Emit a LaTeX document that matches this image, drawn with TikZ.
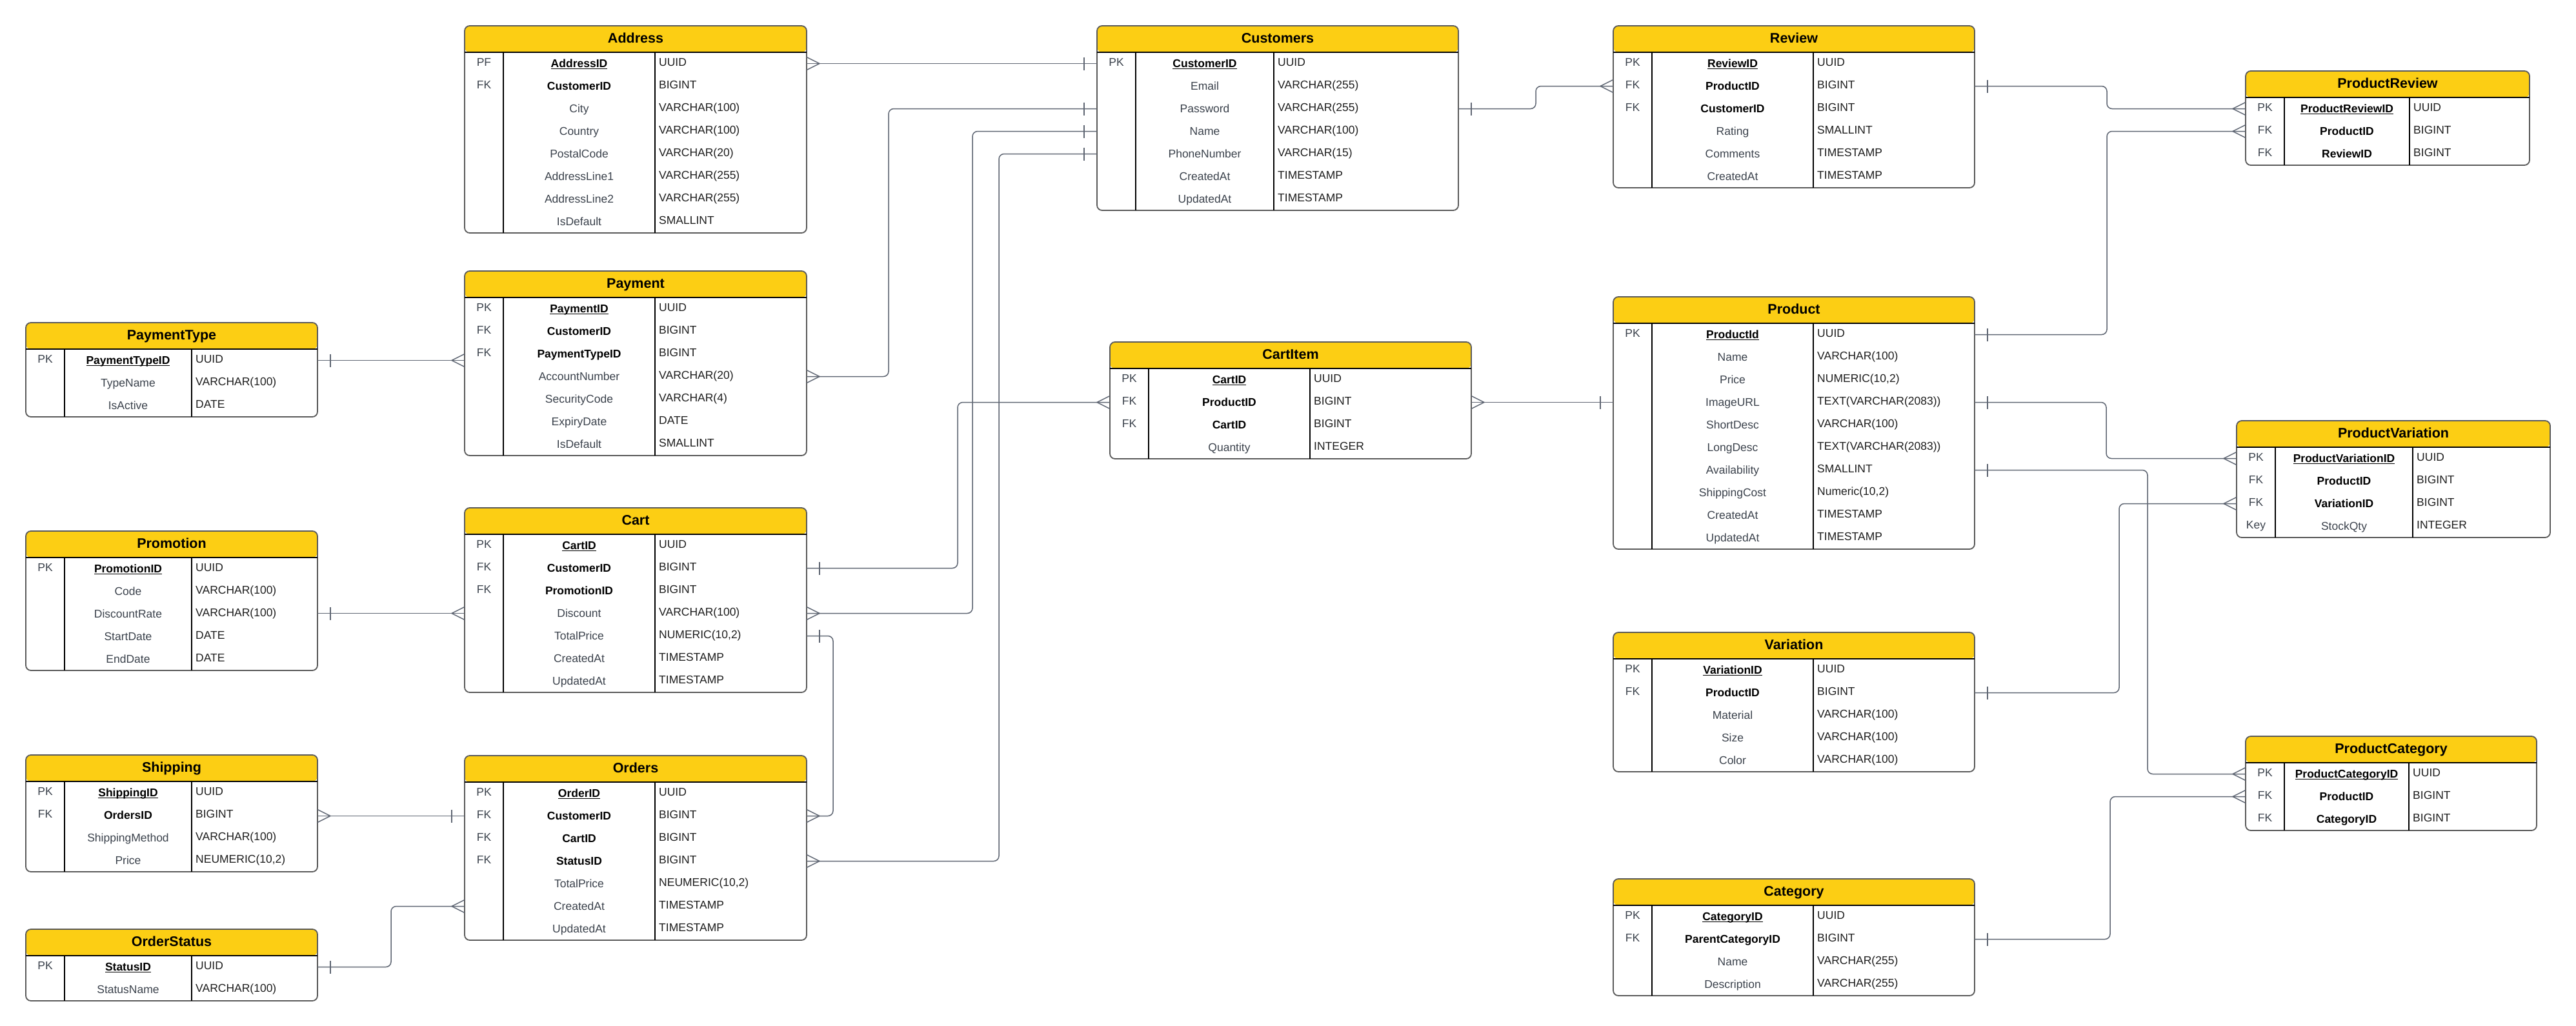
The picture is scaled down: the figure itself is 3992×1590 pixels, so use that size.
\documentclass[tikz,border=0pt]{standalone}
\usepackage{fontspec}
\setmainfont{Liberation Sans}
\usetikzlibrary{calc}

\definecolor{hdr}{HTML}{FCCE14}
\definecolor{edgegray}{HTML}{5F6673}
\definecolor{boxgray}{HTML}{5A5A5A}
\definecolor{attrgray}{HTML}{3B424C}
\definecolor{typeblack}{HTML}{1E1E1E}

\newsavebox\ulbox
\newcommand\ulname[1]{\sbox\ulbox{#1}\rlap{\rule[-2.6pt]{\wd\ulbox}{1.5pt}}\usebox\ulbox}

\tikzset{
  tablebox/.style={draw=boxgray, line width=1.8pt, fill=white, rounded corners=8pt,
    anchor=north west, inner sep=0pt, outer sep=0pt,
    path picture={\fill[hdr] (path picture bounding box.north west)
      rectangle ([yshift=-41pt]path picture bounding box.north east);}},
  gridline/.style={black, line width=1.6pt},
  rowfont/.style={font=\fontsize{17.5pt}{20pt}\selectfont, inner sep=0pt},
  titletext/.style={font=\bfseries\fontsize{21.5pt}{24pt}\selectfont, inner sep=0pt, anchor=base},
  keytext/.style={rowfont, anchor=base, text=attrgray},
  pkname/.style={rowfont, anchor=base, font=\bfseries\fontsize{17.5pt}{20pt}\selectfont, text=black},
  fkname/.style={rowfont, anchor=base, font=\bfseries\fontsize{17.5pt}{20pt}\selectfont, text=black},
  attrname/.style={rowfont, anchor=base, text=attrgray},
  typetext/.style={rowfont, anchor=base west, text=typeblack},
  conn/.style={draw=edgegray, line width=1.5pt},
  link/.style={conn, rounded corners=8pt},
}

% table frame: id, title, left, divider 1, divider 2, right, top, number of rows
\newcommand\ertable[8]{%
  \def\erId{#1}\def\erL{#3}\def\erA{#4}\def\erB{#5}\def\erR{#6}%
  \pgfmathsetmacro\erH{#7+41}%
  \pgfmathsetmacro\erBot{#7+41+35*#8}%
  \pgfmathsetmacro\erW{#6-#3}%
  \pgfmathsetmacro\erHt{41+35*#8}%
  \node[tablebox, minimum width=\erW pt, minimum height=\erHt pt] (#1) at (#3,#7) {};
  \draw[gridline] (#3,\erH) -- (#6,\erH);
  \draw[gridline] (#4,\erH) -- (#4,\erBot);
  \draw[gridline] (#5,\erH) -- (#5,\erBot);
  \node[titletext] (#1-title) at ({(#3+#6)/2},#7+26) {#2};
}
% table row: index, key, name, type, name style
\newcommand\errow[5]{%
  \pgfmathsetmacro\erY{\erH+35*(#1-0.5)}%
  \coordinate (\erId-#1-w) at (\erL,\erY);
  \coordinate (\erId-#1-e) at (\erR,\erY);
  \node[keytext] (\erId-#1-k) at ({(\erL+\erA)/2},\erY+3.6) {#2};
  \node[#5] (\erId-#1-n) at ({(\erA+\erB)/2},\erY+6) {#3};
  \node[typetext] (\erId-#1-t) at (\erB+6,\erY+3.6) {#4};
}

% relationship end marks
\newcommand\crowE[1]{\draw[conn] ([yshift=10pt]#1) -- ([xshift=20pt]#1) -- ([yshift=-10pt]#1);}
\newcommand\crowW[1]{\draw[conn] ([yshift=10pt]#1) -- ([xshift=-20pt]#1) -- ([yshift=-10pt]#1);}
\newcommand\barE[1]{\draw[conn] ([xshift=20pt,yshift=10pt]#1) -- ([xshift=20pt,yshift=-10pt]#1);}
\newcommand\barW[1]{\draw[conn] ([xshift=-20pt,yshift=10pt]#1) -- ([xshift=-20pt,yshift=-10pt]#1);}

\begin{document}
\begin{tikzpicture}[x=1pt, y=-1pt]
\fill[white] (0,0) rectangle (3992,1590);
\useasboundingbox (0,0) rectangle (3992,1590);

% ---------- tables ----------
\ertable{address}{Address}{720}{780}{1015}{1250}{40}{8}
\errow{1}{PF}{\ulname{AddressID}}{UUID}{pkname}
\errow{2}{FK}{CustomerID}{BIGINT}{fkname}
\errow{3}{}{City}{VARCHAR(100)}{attrname}
\errow{4}{}{Country}{VARCHAR(100)}{attrname}
\errow{5}{}{PostalCode}{VARCHAR(20)}{attrname}
\errow{6}{}{AddressLine1}{VARCHAR(255)}{attrname}
\errow{7}{}{AddressLine2}{VARCHAR(255)}{attrname}
\errow{8}{}{IsDefault}{SMALLINT}{attrname}

\ertable{customers}{Customers}{1700}{1760}{1974}{2260}{40}{7}
\errow{1}{PK}{\ulname{CustomerID}}{UUID}{pkname}
\errow{2}{}{Email}{VARCHAR(255)}{attrname}
\errow{3}{}{Password}{VARCHAR(255)}{attrname}
\errow{4}{}{Name}{VARCHAR(100)}{attrname}
\errow{5}{}{PhoneNumber}{VARCHAR(15)}{attrname}
\errow{6}{}{CreatedAt}{TIMESTAMP}{attrname}
\errow{7}{}{UpdatedAt}{TIMESTAMP}{attrname}

\ertable{review}{Review}{2500}{2560}{2810}{3060}{40}{6}
\errow{1}{PK}{\ulname{ReviewID}}{UUID}{pkname}
\errow{2}{FK}{ProductID}{BIGINT}{fkname}
\errow{3}{FK}{CustomerID}{BIGINT}{fkname}
\errow{4}{}{Rating}{SMALLINT}{attrname}
\errow{5}{}{Comments}{TIMESTAMP}{attrname}
\errow{6}{}{CreatedAt}{TIMESTAMP}{attrname}

\ertable{productreview}{ProductReview}{3480}{3540}{3734}{3920}{110}{3}
\errow{1}{PK}{\ulname{ProductReviewID}}{UUID}{pkname}
\errow{2}{FK}{ProductID}{BIGINT}{fkname}
\errow{3}{FK}{ReviewID}{BIGINT}{fkname}

\ertable{paymenttype}{PaymentType}{40}{100}{297}{492}{500}{3}
\errow{1}{PK}{\ulname{PaymentTypeID}}{UUID}{pkname}
\errow{2}{}{TypeName}{VARCHAR(100)}{attrname}
\errow{3}{}{IsActive}{DATE}{attrname}

\ertable{payment}{Payment}{720}{780}{1015}{1250}{420}{7}
\errow{1}{PK}{\ulname{PaymentID}}{UUID}{pkname}
\errow{2}{FK}{CustomerID}{BIGINT}{fkname}
\errow{3}{FK}{PaymentTypeID}{BIGINT}{fkname}
\errow{4}{}{AccountNumber}{VARCHAR(20)}{attrname}
\errow{5}{}{SecurityCode}{VARCHAR(4)}{attrname}
\errow{6}{}{ExpiryDate}{DATE}{attrname}
\errow{7}{}{IsDefault}{SMALLINT}{attrname}

\ertable{cartitem}{CartItem}{1720}{1780}{2030}{2280}{530}{4}
\errow{1}{PK}{\ulname{CartID}}{UUID}{pkname}
\errow{2}{FK}{ProductID}{BIGINT}{fkname}
\errow{3}{FK}{CartID}{BIGINT}{fkname}
\errow{4}{}{Quantity}{INTEGER}{attrname}

\ertable{product}{Product}{2500}{2560}{2810}{3060}{460}{10}
\errow{1}{PK}{\ulname{ProductId}}{UUID}{pkname}
\errow{2}{}{Name}{VARCHAR(100)}{attrname}
\errow{3}{}{Price}{NUMERIC(10,2)}{attrname}
\errow{4}{}{ImageURL}{TEXT(VARCHAR(2083))}{attrname}
\errow{5}{}{ShortDesc}{VARCHAR(100)}{attrname}
\errow{6}{}{LongDesc}{TEXT(VARCHAR(2083))}{attrname}
\errow{7}{}{Availability}{SMALLINT}{attrname}
\errow{8}{}{ShippingCost}{Numeric(10,2)}{attrname}
\errow{9}{}{CreatedAt}{TIMESTAMP}{attrname}
\errow{10}{}{UpdatedAt}{TIMESTAMP}{attrname}

\ertable{productvariation}{ProductVariation}{3466}{3526}{3739}{3952}{652}{4}
\errow{1}{PK}{\ulname{ProductVariationID}}{UUID}{pkname}
\errow{2}{FK}{ProductID}{BIGINT}{fkname}
\errow{3}{FK}{VariationID}{BIGINT}{fkname}
\errow{4}{Key}{StockQty}{INTEGER}{attrname}

\ertable{promotion}{Promotion}{40}{100}{297}{492}{823}{5}
\errow{1}{PK}{\ulname{PromotionID}}{UUID}{pkname}
\errow{2}{}{Code}{VARCHAR(100)}{attrname}
\errow{3}{}{DiscountRate}{VARCHAR(100)}{attrname}
\errow{4}{}{StartDate}{DATE}{attrname}
\errow{5}{}{EndDate}{DATE}{attrname}

\ertable{cart}{Cart}{720}{780}{1015}{1250}{787}{7}
\errow{1}{PK}{\ulname{CartID}}{UUID}{pkname}
\errow{2}{FK}{CustomerID}{BIGINT}{fkname}
\errow{3}{FK}{PromotionID}{BIGINT}{fkname}
\errow{4}{}{Discount}{VARCHAR(100)}{attrname}
\errow{5}{}{TotalPrice}{NUMERIC(10,2)}{attrname}
\errow{6}{}{CreatedAt}{TIMESTAMP}{attrname}
\errow{7}{}{UpdatedAt}{TIMESTAMP}{attrname}

\ertable{variation}{Variation}{2500}{2560}{2810}{3060}{980}{5}
\errow{1}{PK}{\ulname{VariationID}}{UUID}{pkname}
\errow{2}{FK}{ProductID}{BIGINT}{fkname}
\errow{3}{}{Material}{VARCHAR(100)}{attrname}
\errow{4}{}{Size}{VARCHAR(100)}{attrname}
\errow{5}{}{Color}{VARCHAR(100)}{attrname}

\ertable{shipping}{Shipping}{40}{100}{297}{492}{1170}{4}
\errow{1}{PK}{\ulname{ShippingID}}{UUID}{pkname}
\errow{2}{FK}{OrdersID}{BIGINT}{fkname}
\errow{3}{}{ShippingMethod}{VARCHAR(100)}{attrname}
\errow{4}{}{Price}{NEUMERIC(10,2)}{attrname}

\ertable{orders}{Orders}{720}{780}{1015}{1250}{1171}{7}
\errow{1}{PK}{\ulname{OrderID}}{UUID}{pkname}
\errow{2}{FK}{CustomerID}{BIGINT}{fkname}
\errow{3}{FK}{CartID}{BIGINT}{fkname}
\errow{4}{FK}{StatusID}{BIGINT}{fkname}
\errow{5}{}{TotalPrice}{NEUMERIC(10,2)}{attrname}
\errow{6}{}{CreatedAt}{TIMESTAMP}{attrname}
\errow{7}{}{UpdatedAt}{TIMESTAMP}{attrname}

\ertable{productcategory}{ProductCategory}{3480}{3540}{3733}{3931}{1141}{3}
\errow{1}{PK}{\ulname{ProductCategoryID}}{UUID}{pkname}
\errow{2}{FK}{ProductID}{BIGINT}{fkname}
\errow{3}{FK}{CategoryID}{BIGINT}{fkname}

\ertable{orderstatus}{OrderStatus}{40}{100}{297}{492}{1440}{2}
\errow{1}{PK}{\ulname{StatusID}}{UUID}{pkname}
\errow{2}{}{StatusName}{VARCHAR(100)}{attrname}

\ertable{category}{Category}{2500}{2560}{2810}{3060}{1362}{4}
\errow{1}{PK}{\ulname{CategoryID}}{UUID}{pkname}
\errow{2}{FK}{ParentCategoryID}{BIGINT}{fkname}
\errow{3}{}{Name}{VARCHAR(255)}{attrname}
\errow{4}{}{Description}{VARCHAR(255)}{attrname}

% ---------- relationships ----------
\coordinate (pay-in) at (paymenttype-1-e -| payment.west);
\coordinate (promo-out) at (cart-4-w -| promotion.east);
\coordinate (ship-out) at (orders-2-w -| shipping.east);

% Address -- Customers
\draw[link] (address-1-e) -- (customers-1-w);
\crowE{address-1-e} \barW{customers-1-w}
% Payment -- Customers
\draw[link] (payment-4-e) -| ([xshift=-323pt]customers-3-w) -- (customers-3-w);
\crowE{payment-4-e} \barW{customers-3-w}
% Cart -- Customers
\draw[link] (cart-4-e) -| ([xshift=-193pt]customers-4-w) -- (customers-4-w);
\crowE{cart-4-e} \barW{customers-4-w}
% Orders -- Customers
\draw[link] (orders-4-e) -| ([xshift=-152pt]customers-5-w) -- (customers-5-w);
\crowE{orders-4-e} \barW{customers-5-w}
% PaymentType -- Payment
\draw[link] (paymenttype-1-e) -- (pay-in);
\barE{paymenttype-1-e} \crowW{pay-in}
% Promotion -- Cart
\draw[link] (promo-out) -- (cart-4-w);
\barE{promo-out} \crowW{cart-4-w}
% Shipping -- Orders
\draw[link] (ship-out) -- (orders-2-w);
\crowE{ship-out} \barW{orders-2-w}
% OrderStatus -- Orders
\draw[link] (orderstatus-1-e) -| ([xshift=-114pt]orders-6-w) -- (orders-6-w);
\barE{orderstatus-1-e} \crowW{orders-6-w}
% Cart -- Orders
\draw[link] (cart-5-e) -| ([xshift=41pt]orders-2-e) -- (orders-2-e);
\barE{cart-5-e} \crowE{orders-2-e}
% Cart -- CartItem
\draw[link] (cart-2-e) -| ([xshift=-236pt]cartitem-2-w) -- (cartitem-2-w);
\barE{cart-2-e} \crowW{cartitem-2-w}
% CartItem -- Product
\draw[link] (cartitem-2-e) -- (product-4-w);
\crowE{cartitem-2-e} \barW{product-4-w}
% Customers -- Review
\draw[link] (customers-3-e) -| ([xshift=-120pt]review-2-w) -- (review-2-w);
\barE{customers-3-e} \crowW{review-2-w}
% Review -- ProductReview
\draw[link] (review-2-e) -| ([xshift=-215pt]productreview-1-w) -- (productreview-1-w);
\barE{review-2-e} \crowW{productreview-1-w}
% Product -- ProductReview
\draw[link] (product-1-e) -| ([xshift=-215pt]productreview-2-w) -- (productreview-2-w);
\barE{product-1-e} \crowW{productreview-2-w}
% Product -- ProductVariation
\draw[link] (product-4-e) -| ([xshift=-202pt]productvariation-1-w) -- (productvariation-1-w);
\barE{product-4-e} \crowW{productvariation-1-w}
% Product -- ProductCategory
\draw[link] (product-7-e) -| ([xshift=-152pt]productcategory-1-w) -- (productcategory-1-w);
\barE{product-7-e} \crowW{productcategory-1-w}
% Variation -- ProductVariation
\draw[link] (variation-2-e) -| ([xshift=-182pt]productvariation-3-w) -- (productvariation-3-w);
\barE{variation-2-e} \crowW{productvariation-3-w}
% Category -- ProductCategory
\draw[link] (category-2-e) -| ([xshift=-210pt]productcategory-2-w) -- (productcategory-2-w);
\barE{category-2-e} \crowW{productcategory-2-w}
\end{tikzpicture}
\end{document}
